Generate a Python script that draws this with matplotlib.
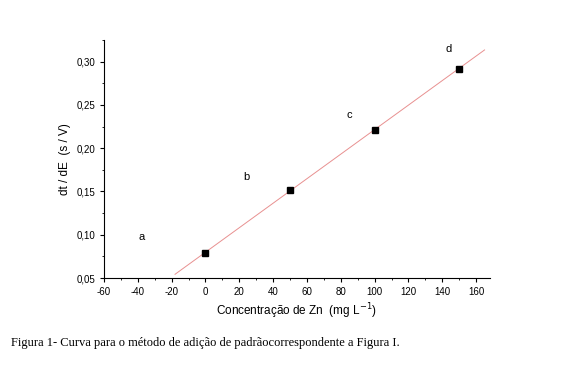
import numpy as np
import matplotlib
matplotlib.use("Agg")
import matplotlib.pyplot as plt
from matplotlib.ticker import FuncFormatter, MultipleLocator

plt.rcParams["font.family"] = ["Liberation Sans", "DejaVu Sans"]
plt.rcParams["axes.unicode_minus"] = False

# data
conc = [0, 50, 100, 150]
dtde = [0.079, 0.152, 0.221, 0.292]
point_labels = ["a", "b", "c", "d"]
label_x = [-38, 24, 85, 144]
label_y = [0.097, 0.167, 0.238, 0.315]
fit_range = [-18, 165]

fig = plt.figure(figsize=(5.73, 3.84), dpi=100)
ax = fig.add_axes([0.1815, 0.276, 0.673, 0.62])

slope, intercept = np.polyfit(conc, dtde, 1)
xf = np.array(fit_range)
ax.plot(xf, slope * xf + intercept, color="#e89090", lw=0.7)
ax.plot(conc, dtde, "s", color="black", ms=4)

for lx, ly, t in zip(label_x, label_y, point_labels):
    ax.text(lx, ly, t, fontsize=8, ha="center", va="center")

ax.set_xlim(-60, 168)
ax.set_ylim(0.05, 0.325)
ax.xaxis.set_major_locator(MultipleLocator(20))
ax.xaxis.set_minor_locator(MultipleLocator(10))
ax.yaxis.set_major_locator(MultipleLocator(0.05))
ax.yaxis.set_minor_locator(MultipleLocator(0.025))
ax.yaxis.set_major_formatter(FuncFormatter(lambda v, p: f"{v:.2f}".replace(".", ",")))

for s in ["top", "right"]:
    ax.spines[s].set_visible(False)
ax.tick_params(which="major", direction="out", length=3, labelsize=7)
ax.tick_params(which="minor", direction="out", length=1.5)

ax.set_xlabel("Concentração de Zn  (mg L$^{-1}$)", fontsize=8.5, labelpad=3)
ax.set_ylabel("dt / dE  (s / V)", fontsize=8.5)

fig.text(0.02, 0.1, "Figura 1- Curva para o método de adição de padrãocorrespondente a Figura I.",
         fontsize=9, family=["Liberation Serif", "DejaVu Serif"])

fig.savefig("out.png", dpi=100)
